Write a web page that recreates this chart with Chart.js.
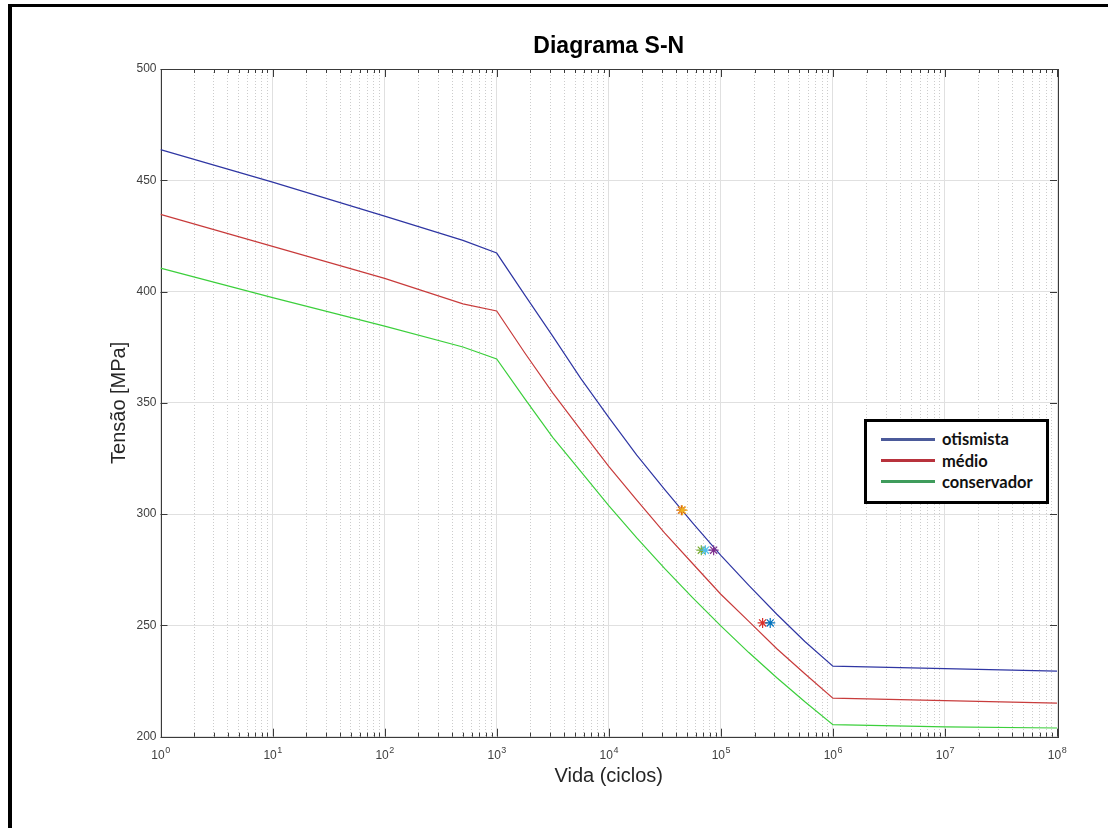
<!DOCTYPE html>
<html>
<head>
<meta charset="utf-8">
<title>Diagrama S-N</title>
<script src="https://cdn.jsdelivr.net/npm/chart.js@4.4.1/dist/chart.umd.min.js"></script>
<style>
    html, body { margin: 0; padding: 0; background: #fff; }
    #page { position: relative; width: 1108px; height: 828px; overflow: hidden; }
    #frame {
        position: absolute; left: 8px; top: 4px; width: 1100px; height: 824px;
        border-top: 3px solid #000; border-left: 4px solid #000; box-sizing: border-box;
    }
    #chart { position: absolute; left: 0; top: 0; }
    #legend {
        position: absolute; left: 864px; top: 419px; width: 185px; height: 85px;
        box-sizing: border-box; border: 3px solid #000; background: #fff;
        font-family: Lato, 'Open Sans', sans-serif; font-weight: bold; font-size: 16.5px; color: #111;
    }
    #legend .row { position: absolute; left: 14px; height: 20px; display: flex; align-items: center; white-space: nowrap; }
    #legend .swatch { display: inline-block; width: 54px; height: 3px; margin-right: 7px; }
</style>
</head>
<body>
<div id="page">
    <div id="frame"></div>
    <canvas id="chart" width="1108" height="828"></canvas>
    <div id="legend"></div>
</div>
<script>
// vida (ciclos) e tensão [MPa]
const cycles = [1, 10, 100, 500, 1000, 1778, 3162, 5623, 10000, 17783, 31623, 56234,
    100000, 177828, 316228, 562341, 1000000, 10000000, 100000000];
const otimista = [463.8, 449.2, 433.9, 423.0, 417.3, 398.5, 380.0, 361.0, 343.5, 326.5, 311.0, 296.0,
    281.5, 268.0, 255.0, 242.8, 231.7, 230.6, 229.5];
const medio = [434.7, 420.3, 405.9, 394.5, 391.3, 372.5, 354.5, 337.9, 321.5, 306.3, 291.5, 277.7,
    264.0, 251.8, 239.5, 228.3, 217.3, 216.2, 215.1];
const conservador = [410.5, 397.3, 384.5, 375.1, 369.7, 351.9, 334.5, 319.2, 303.8, 289.3, 275.5, 262.4,
    249.8, 237.8, 226.5, 215.7, 205.4, 204.4, 203.9];
const seriesLabels = ['otismista', 'médio', 'conservador'];

// pontos marcados com asterisco
const markerCycles = [44500, 45400, 67000, 72800, 86300, 236000, 276000];
const markerStress = [301.8, 301.8, 283.8, 283.8, 283.8, 251.1, 251.1];

const yTicks = [200, 250, 300, 350, 400, 450, 500];
const xTickBase = '10';
const xTickExponents = ['0', '1', '2', '3', '4', '5', '6', '7', '8'];

const lineColors = ['#2f36a3', '#c83c3c', '#3ccf3c'];
const legendColors = ['#4b5a9a', '#b8323c', '#3f9c5c'];
const markerColors = ['#d95319', '#edb120', '#77ac30', '#4dbeee', '#7e2f8e', '#d9302a', '#0072bd'];

const FONT = "'Liberation Sans', Arial, sans-serif";

function isDecade(v) {
    const l = Math.log10(v);
    return Math.abs(l - Math.round(l)) < 1e-9;
}

// 1..9 em cada década, para as linhas de grade menores
const xTickValues = [];
for (let k = 0; k < xTickExponents.length - 1; k++) {
    for (let m = 1; m <= 9; m++) xTickValues.push(m * Math.pow(10, k));
}
xTickValues.push(Math.pow(10, xTickExponents.length - 1));

const axesBox = {
    id: 'axesBox',
    beforeDatasetsDraw(chart) {
        const { ctx, chartArea: a, scales: { x, y } } = chart;
        ctx.save();
        ctx.strokeStyle = '#3a3a3a';
        ctx.lineWidth = 1;
        ctx.beginPath();
        x.ticks.forEach(t => {
            const px = Math.round(x.getPixelForValue(t.value)) + 0.5;
            const len = isDecade(t.value) ? 8 : 4;
            ctx.moveTo(px, a.bottom); ctx.lineTo(px, a.bottom - len);
            ctx.moveTo(px, a.top); ctx.lineTo(px, a.top + len);
        });
        y.ticks.forEach(t => {
            const py = Math.round(y.getPixelForValue(t.value)) + 0.5;
            ctx.moveTo(a.left, py); ctx.lineTo(a.left + 7, py);
            ctx.moveTo(a.right, py); ctx.lineTo(a.right - 7, py);
        });
        ctx.stroke();
        ctx.strokeRect(Math.round(a.left) + 0.5, Math.round(a.top) + 0.5, Math.round(a.width), Math.round(a.height));
        ctx.restore();
    },
    // rótulos 10^k com expoente em sobrescrito
    afterDraw(chart) {
        const { ctx, chartArea: a, scales: { x } } = chart;
        ctx.save();
        ctx.fillStyle = '#404040';
        ctx.textBaseline = 'alphabetic';
        ctx.textAlign = 'left';
        x.ticks.filter(t => isDecade(t.value)).forEach(t => {
            const px = x.getPixelForValue(t.value);
            const exp = xTickExponents[Math.round(Math.log10(t.value))];
            ctx.font = '12px ' + FONT;
            const wb = ctx.measureText(xTickBase).width;
            ctx.font = '9px ' + FONT;
            const we = ctx.measureText(exp).width;
            const x0 = px - (wb + we) / 2;
            ctx.font = '12px ' + FONT;
            ctx.fillText(xTickBase, x0, a.bottom + 22);
            ctx.font = '9px ' + FONT;
            ctx.fillText(exp, x0 + wb + 0.5, a.bottom + 16.5);
        });
        ctx.restore();
    }
};

function toPoints(xs, ys) {
    return xs.map((v, i) => ({ x: v, y: ys[i] }));
}

const lineSets = [otimista, medio, conservador].map((vals, i) => ({
    label: seriesLabels[i],
    data: toPoints(cycles, vals),
    borderColor: lineColors[i],
    borderWidth: 1.2,
    pointRadius: 0,
    tension: 0,
    fill: false,
    order: 1
}));

new Chart(document.getElementById('chart'), {
    type: 'line',
    data: {
        datasets: [{
            label: 'pontos',
            data: toPoints(markerCycles, markerStress),
            showLine: false,
            pointStyle: 'star',
            pointRadius: 5,
            pointBorderWidth: 1.2,
            pointBorderColor: markerColors,
            pointBackgroundColor: markerColors,
            order: 0
        }, ...lineSets]
    },
    options: {
        responsive: false,
        animation: false,
        devicePixelRatio: 1,
        layout: { padding: { left: 0, right: 51, top: 0, bottom: 0 } },
        plugins: {
            legend: { display: false },
            tooltip: { enabled: false },
            title: {
                display: true,
                fullSize: false,
                text: 'Diagrama S-N',
                color: '#000',
                font: { family: FONT, size: 23, weight: 'bold', lineHeight: 1.2 },
                padding: { top: 33, bottom: 8.4 }
            }
        },
        scales: {
            x: {
                type: 'logarithmic',
                min: 1,
                max: 1e8,
                afterBuildTicks: axis => { axis.ticks = xTickValues.map(v => ({ value: v })); },
                afterFit: axis => { axis.height = 91.3; },
                ticks: { display: false, autoSkip: false },
                grid: {
                    drawTicks: false,
                    lineWidth: 1,
                    color: c => (c.tick && !isDecade(c.tick.value)) ? '#cccccc' : '#e0e0e0'
                },
                border: {
                    display: false,
                    dash: c => (c.tick && !isDecade(c.tick.value)) ? [1, 2] : []
                },
                title: {
                    display: true,
                    text: 'Vida (ciclos)',
                    color: '#262626',
                    font: { family: FONT, size: 20 },
                    padding: { top: 0, bottom: 40 }
                }
            },
            y: {
                min: 200,
                max: 500,
                afterBuildTicks: axis => { axis.ticks = yTicks.map(v => ({ value: v })); },
                afterFit: axis => { axis.width = 160.5; },
                ticks: {
                    padding: 4,
                    color: '#404040',
                    font: { family: FONT, size: 12 }
                },
                grid: { drawTicks: false, color: '#e0e0e0', lineWidth: 1 },
                border: { display: false },
                title: {
                    display: true,
                    text: 'Tensão [MPa]',
                    color: '#262626',
                    font: { family: FONT, size: 20 },
                    padding: { top: 107, bottom: 0 }
                }
            }
        }
    },
    plugins: [axesBox]
});

// legenda em caixa, como na figura
const legend = document.getElementById('legend');
const rowTops = [7, 28.5, 49.5];
seriesLabels.forEach((name, i) => {
    const row = document.createElement('div');
    row.className = 'row';
    row.style.top = rowTops[i] + 'px';
    const sw = document.createElement('span');
    sw.className = 'swatch';
    sw.style.background = legendColors[i];
    const txt = document.createElement('span');
    txt.textContent = name;
    row.appendChild(sw);
    row.appendChild(txt);
    legend.appendChild(row);
});
</script>
</body>
</html>
